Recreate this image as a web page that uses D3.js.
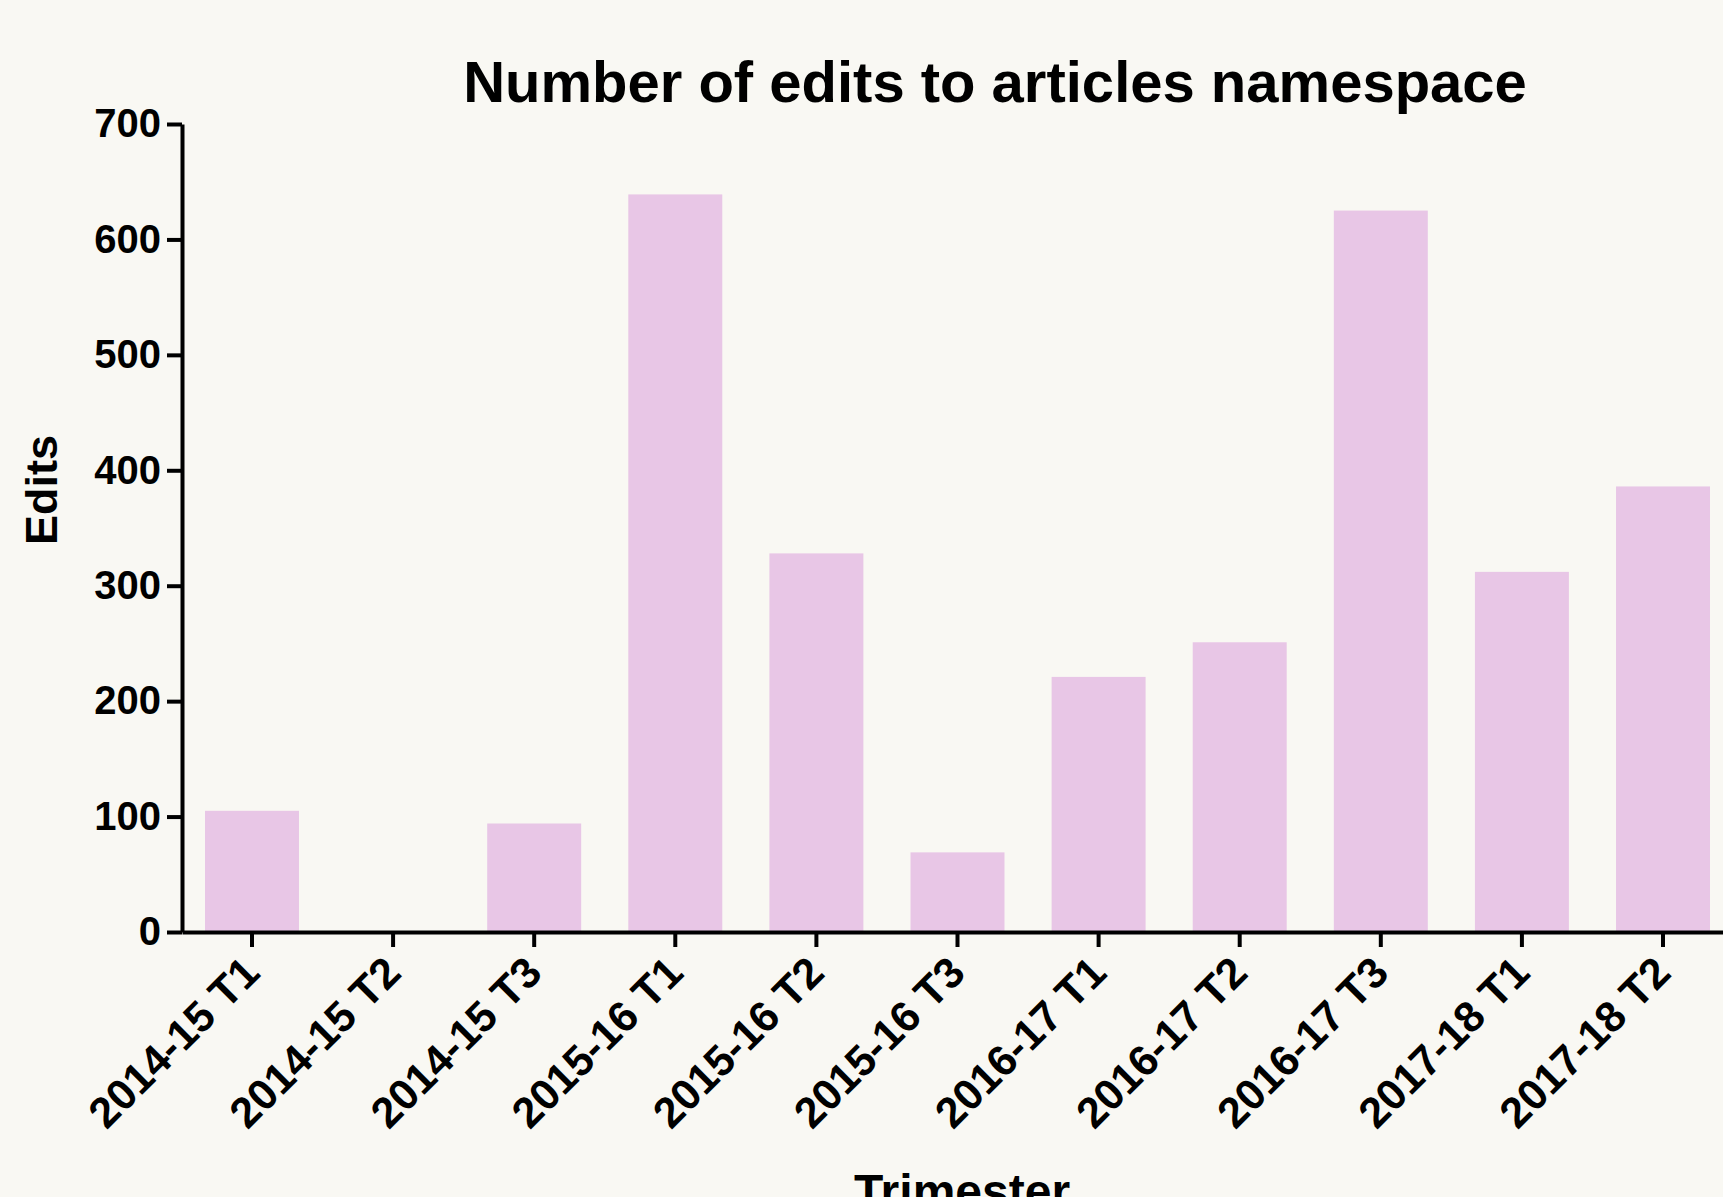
<!DOCTYPE html>
<html>
<head>
<meta charset="utf-8">
<script src="https://cdnjs.cloudflare.com/ajax/libs/d3/7.8.5/d3.min.js"></script>
<style>
  html, body { margin: 0; padding: 0; background: #f9f8f3; overflow: hidden; }
  text { font-family: "Liberation Sans", Arial, Helvetica, sans-serif; font-weight: bold; fill: #000; }
</style>
</head>
<body>
<div id="chart"></div>
<script>
// categories and values
var trimesters = ["2014-15 T1", "2014-15 T2", "2014-15 T3", "2015-16 T1", "2015-16 T2", "2015-16 T3",
                  "2016-17 T1", "2016-17 T2", "2016-17 T3", "2017-18 T1", "2017-18 T2"];
var edits = [105, 0, 94, 639, 328, 69, 221, 251, 625, 312, 386];
var yTicks = [0, 100, 200, 300, 400, 500, 600, 700];

var svgWidth = 1723;
var svgHeight = 1197;

var margin = { top: 124, left: 182, bottom: 265, right: -10 };
var width = svgWidth - margin.left - margin.right;
var height = svgHeight - margin.top - margin.bottom;

var data = trimesters.map(function(t, i) { return { trimester: t, edits: edits[i] }; });

var svg = d3.select("#chart")
  .append("svg")
  .attr("width", svgWidth)
  .attr("height", svgHeight);

svg.append("rect")
  .attr("width", svgWidth)
  .attr("height", svgHeight)
  .attr("fill", "#f9f8f3");

var chartGroup = svg.append("g")
  .attr("transform", "translate(" + margin.left + "," + margin.top + ")");

var x = d3.scaleBand()
  .domain(trimesters)
  .range([0, width])
  .paddingInner(0.334)
  .paddingOuter(0.163);

var y = d3.scaleLinear()
  .domain([0, 700])
  .range([height, 0]);

chartGroup.selectAll(".bar")
  .data(data)
  .enter()
  .append("rect")
  .attr("class", "bar")
  .attr("x", d => x(d.trimester))
  .attr("y", d => y(d.edits))
  .attr("width", x.bandwidth())
  .attr("height", d => height - y(d.edits))
  .attr("fill", "#e8c6e6");

var yAxis = chartGroup.append("g")
  .call(d3.axisLeft(y).tickValues(yTicks).tickSize(15).tickSizeOuter(0).tickPadding(6));

var xAxis = chartGroup.append("g")
  .attr("transform", "translate(0," + height + ")")
  .call(d3.axisBottom(x).tickSize(15).tickSizeOuter(0));

chartGroup.selectAll(".domain, .tick line")
  .attr("stroke", "#000")
  .attr("stroke-width", 4);

yAxis.selectAll("text")
  .style("font-size", "40px");

xAxis.selectAll("text")
  .style("font-size", "43px")
  .attr("text-anchor", "end")
  .attr("x", 0)
  .attr("y", 0)
  .attr("dy", 0)
  .attr("transform", "translate(10,43) rotate(-45)");

svg.append("text")
  .attr("x", 995)
  .attr("y", 102)
  .attr("text-anchor", "middle")
  .style("font-size", "58px")
  .text("Number of edits to articles namespace");

svg.append("text")
  .attr("transform", "translate(57,490) rotate(-90)")
  .attr("text-anchor", "middle")
  .style("font-size", "45px")
  .text("Edits");

svg.append("text")
  .attr("x", 962)
  .attr("y", 1208)
  .attr("text-anchor", "middle")
  .style("font-size", "48px")
  .text("Trimester");
</script>
</body>
</html>
